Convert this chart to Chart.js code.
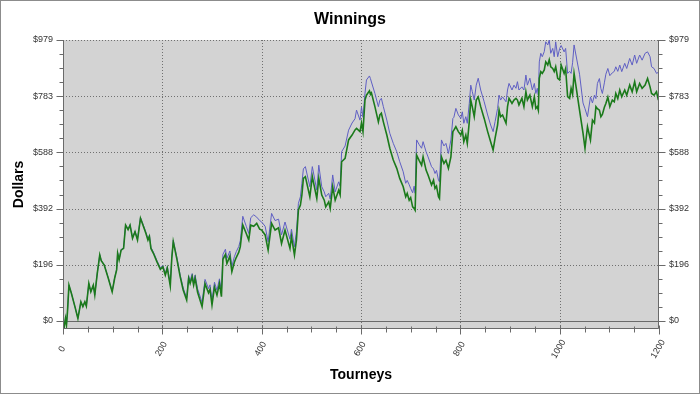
<!DOCTYPE html>
<html>
<head>
<meta charset="utf-8">
<script src="https://cdn.jsdelivr.net/npm/chart.js@4"></script>
<style>
  body { margin: 0; background: #fff; }
  canvas { display: block; }
</style>
</head>
<body>
<canvas id="winnings" width="700" height="394"></canvas>
<script>
// values, at the turning points of each line
const tourneys = [
  0, 2, 5, 7, 9, 12, 17, 24, 30, 36,
  40, 44, 47, 52, 56, 61, 64, 69, 74, 77,
  83, 91, 99, 104, 108, 110, 113, 117, 122, 126,
  131, 135, 140, 145, 150, 156, 162, 167, 171, 174,
  177, 182, 189, 196, 201, 206, 210, 216, 219, 222,
  229, 236, 242, 249, 253, 256, 260, 263, 266, 271,
  280, 286, 293, 296, 300, 305, 310, 315, 319, 322,
  327, 330, 336, 340, 345, 349, 354, 357, 362, 369,
  374, 378, 384, 390, 396, 400, 407, 413, 420, 427,
  434, 440, 447, 457, 460, 466, 470, 474, 478, 481,
  484, 488, 497, 502, 511, 515, 521, 526, 529, 535,
  538, 543, 548, 555, 558, 561, 568, 575, 582, 588,
  591, 598, 601, 604, 608, 611, 617, 619, 621, 628,
  635, 638, 641, 645, 652, 658, 665, 672, 678, 685,
  690, 693, 697, 700, 704, 707, 709, 712, 717, 722,
  725, 731, 735, 742, 746, 749, 752, 756, 758, 762,
  767, 771, 776, 781, 785, 787, 791, 796, 801, 804,
  807, 811, 814, 818, 821, 824, 828, 832, 836, 841,
  848, 855, 861, 866, 870, 875, 878, 881, 885, 892,
  895, 898, 904, 908, 912, 915, 918, 924, 928, 932,
  935, 940, 945, 949, 952, 955, 957, 959, 962, 965,
  969, 972, 976, 979, 982, 986, 989, 992, 996, 1000,
  1003, 1009, 1012, 1016, 1020, 1023, 1026, 1029, 1040, 1047,
  1051, 1056, 1062, 1066, 1070, 1073, 1076, 1080, 1083, 1086,
  1090, 1093, 1097, 1101, 1106, 1110, 1113, 1117, 1121, 1125,
  1131, 1135, 1141, 1146, 1151, 1155, 1161, 1166, 1172, 1177,
  1182, 1185, 1190, 1195, 1198, 1200
];

const netWon = [
  -5, -25, 9, -14, 32, 125, 96, 50, 9, 67,
  50, 67, 52, 131, 102, 125, 91, 166, 230, 210,
  195, 150, 102, 149, 178, 236, 213, 247, 253, 334,
  318, 334, 288, 311, 282, 358, 329, 305, 282, 295,
  253, 236, 207, 180, 189, 160, 184, 122, 218, 276,
  218, 154, 108, 73, 149, 131, 154, 125, 149, 100,
  50, 130, 98, 110, 56, 118, 90, 130, 85, 215,
  232, 200, 226, 172, 205, 222, 240, 259, 335, 305,
  282, 334, 330, 340, 320, 317, 300, 247, 340, 317,
  325, 270, 317, 253, 294, 230, 282, 387, 404, 439,
  497, 503, 433, 503, 427, 497, 439, 421, 398, 415,
  392, 468, 421, 456, 440, 555, 567, 631, 648, 666,
  671, 660, 690, 660, 770, 787, 802, 790, 795, 747,
  694, 718, 724, 694, 648, 602, 561, 532, 497, 468,
  433, 445, 421, 430, 398, 392, 386, 578, 560, 543,
  572, 526, 509, 474, 491, 462, 470, 433, 427, 572,
  549, 560, 532, 572, 660, 665, 677, 660, 648, 665,
  625, 648, 619, 694, 770, 747, 712, 770, 781, 747,
  706, 660, 625, 596, 637, 683, 735, 712, 718, 689,
  747, 776, 758, 770, 776, 770, 753, 776, 747, 799,
  770, 787, 747, 781, 741, 747, 735, 846, 869, 863,
  875, 903, 892, 910, 886, 880, 869, 886, 846, 840,
  892, 863, 880, 782, 776, 811, 790, 863, 735, 655,
  602, 677, 631, 700, 690, 747, 740, 735, 712, 720,
  745, 758, 780, 747, 770, 764, 793, 775, 805, 782,
  805, 787, 822, 799, 834, 799, 828, 811, 822, 845,
  816, 793, 787, 799, 776, 782
];

const netWonPlusBonus = [
  -5, -25, 9, -14, 32, 125, 96, 50, 9, 67,
  50, 67, 52, 131, 102, 125, 91, 167, 231, 211,
  196, 151, 103, 151, 180, 238, 215, 249, 255, 336,
  320, 336, 290, 313, 285, 361, 333, 309, 286, 299,
  257, 240, 211, 185, 194, 166, 190, 128, 224, 282,
  224, 160, 115, 80, 158, 140, 165, 136, 160, 112,
  65, 145, 113, 126, 72, 135, 107, 147, 102, 232,
  250, 218, 244, 190, 224, 242, 260, 280, 365, 330,
  305, 360, 370, 362, 350, 345, 330, 276, 375, 350,
  355, 300, 345, 285, 320, 259, 311, 410, 433, 480,
  530, 538, 468, 538, 456, 543, 468, 450, 433, 445,
  425, 509, 450, 485, 470, 590, 610, 665, 690, 705,
  735, 700, 745, 710, 793, 840, 854, 845, 833, 793,
  747, 770, 776, 747, 700, 654, 619, 590, 555, 520,
  480, 490, 475, 462, 447, 470, 445, 631, 615, 602,
  625, 590, 572, 538, 530, 514, 525, 491, 485, 631,
  610, 619, 584, 631, 706, 710, 741, 718, 706, 729,
  689, 712, 689, 758, 822, 800, 770, 822, 846, 805,
  764, 718, 683, 660, 695, 741, 787, 770, 781, 764,
  805, 828, 805, 822, 811, 834, 805, 816, 805, 857,
  822, 846, 805, 828, 793, 811, 787, 903, 933, 921,
  939, 973, 962, 979, 933, 950, 921, 973, 921, 950,
  960, 938, 950, 863, 870, 863, 900, 962, 860, 760,
  740, 712, 781, 760, 787, 775, 828, 845, 810, 793,
  830, 860, 880, 855, 865, 870, 886, 870, 892, 869,
  898, 880, 915, 892, 927, 898, 927, 909, 933, 938,
  921, 886, 880, 863, 866, 869
];

const xTicks = [0, 200, 400, 600, 800, 1000, 1200];
const yTicks = [0, 195.86, 391.72, 587.58, 783.44, 979.3];
const yTickLabels = ["$0", "$196", "$392", "$588", "$783", "$979"];

const FONT = "'Liberation Sans', Arial, sans-serif";

function points(values) {
  return tourneys.map((t, i) => ({ x: t, y: values[i] }));
}

function setYTicks(scale) {
  scale.ticks = yTicks.map(v => ({ value: v }));
}

function yLabel(value) {
  const i = yTicks.indexOf(value);
  return i >= 0 ? yTickLabels[i] : "";
}

// plot background, dotted grid, tick marks, rotated x labels and titles
const frame = {
  id: "frame",
  beforeDatasetsDraw(chart) {
    const { ctx, chartArea: a, scales } = chart;
    ctx.save();
    ctx.fillStyle = "#d3d3d3";
    ctx.fillRect(a.left, a.top, a.right - a.left, a.bottom - a.top);

    ctx.strokeStyle = "#707070";
    ctx.lineWidth = 1;
    ctx.setLineDash([1, 2]);
    ctx.beginPath();
    xTicks.slice(1, -1).forEach(v => {
      const x = Math.round(scales.x.getPixelForValue(v)) + 0.5;
      ctx.moveTo(x, a.top);
      ctx.lineTo(x, a.bottom);
    });
    yTicks.slice(1).forEach(v => {
      const y = Math.round(scales.y.getPixelForValue(v)) + 0.5;
      ctx.moveTo(a.left, y);
      ctx.lineTo(a.right, y);
    });
    ctx.stroke();
    ctx.setLineDash([]);

    const y0 = Math.round(scales.y.getPixelForValue(0)) + 0.5;
    ctx.strokeStyle = "#6a6a6a";
    ctx.beginPath();
    ctx.moveTo(a.left, y0);
    ctx.lineTo(a.right, y0);
    ctx.stroke();
    ctx.restore();
  },
  afterDraw(chart) {
    const { ctx, chartArea: a, scales } = chart;
    ctx.save();
    ctx.strokeStyle = "#6a6a6a";
    ctx.lineWidth = 1;
    const L = Math.round(a.left) + 0.5;
    const R = Math.round(a.right) - 0.5;
    const B = Math.round(a.bottom) - 0.5;
    ctx.beginPath();
    ctx.moveTo(L, a.top);
    ctx.lineTo(L, B);
    ctx.lineTo(R, B);
    ctx.lineTo(R, a.top);

    // y tick marks, both sides
    for (let i = 0; i <= 20; i++) {
      const y = Math.round(scales.y.getPixelForValue(979.3 * i / 20)) + 0.5;
      const len = i % 4 === 0 ? 7 : 4;
      ctx.moveTo(L - len, y);
      ctx.lineTo(L, y);
      ctx.moveTo(R, y);
      ctx.lineTo(R + len, y);
    }
    // x tick marks
    for (let v = 0; v <= 1200; v += 50) {
      const x = Math.round(scales.x.getPixelForValue(v)) + 0.5;
      const major = v % 200 === 0;
      ctx.moveTo(x, B - (major ? 3 : 2));
      ctx.lineTo(x, B + (major ? 6 : 4));
    }
    ctx.stroke();

    // x labels, rotated about their centre
    ctx.fillStyle = "#333";
    ctx.font = "9px " + FONT;
    ctx.textAlign = "center";
    ctx.textBaseline = "middle";
    xTicks.forEach(v => {
      const x = scales.x.getPixelForValue(v) - 1;
      ctx.save();
      ctx.translate(x, 349);
      ctx.rotate(-Math.PI / 3);
      ctx.fillText(String(v), 0, 0);
      ctx.restore();
    });

    ctx.fillStyle = "#000";
    ctx.font = "bold 16px " + FONT;
    ctx.fillText("Winnings", 350, 20);
    ctx.font = "bold 14px " + FONT;
    ctx.fillText("Tourneys", (a.left + a.right) / 2, 375);
    ctx.save();
    ctx.translate(19, (a.top + a.bottom) / 2);
    ctx.rotate(-Math.PI / 2);
    ctx.fillText("Dollars", 0, 0);
    ctx.restore();

    ctx.strokeStyle = "#8c8c8c";
    ctx.strokeRect(0.5, 0.5, chart.width - 1, chart.height - 1);
    ctx.restore();
  }
};

const yAxis = (position, width) => ({
  type: "linear",
  position: position,
  min: -27.9,
  max: 979.3,
  afterBuildTicks: setYTicks,
  afterFit: (scale) => { scale.width = width; },
  grid: { display: false, drawTicks: false },
  border: { display: false },
  ticks: {
    padding: 10,
    color: "#333",
    font: { family: FONT, size: 9 },
    callback: yLabel
  }
});

new Chart("winnings", {
  type: "line",
  data: {
    datasets: [
      {
        label: "Net won",
        data: points(netWon),
        borderColor: "#1b7a1b",
        borderWidth: 1.6,
        pointRadius: 0,
        tension: 0,
        yAxisID: "y"
      },
      {
        label: "Net won + bonus",
        data: points(netWonPlusBonus),
        borderColor: "#5f5fc4",
        borderWidth: 1,
        pointRadius: 0,
        tension: 0,
        yAxisID: "y"
      }
    ]
  },
  options: {
    responsive: false,
    animation: false,
    devicePixelRatio: 1,
    layout: { padding: { top: 40, left: 0, right: 0, bottom: 0 } },
    plugins: {
      legend: { display: false },
      tooltip: { enabled: false },
      title: { display: false }
    },
    scales: {
      x: {
        type: "linear",
        min: 0,
        max: 1200,
        afterFit: (scale) => { scale.height = 65; },
        grid: { display: false, drawTicks: false },
        border: { display: false },
        ticks: { display: false }
      },
      y: yAxis("left", 63),
      y2: yAxis("right", 41)
    }
  },
  plugins: [frame]
});
</script>
</body>
</html>
